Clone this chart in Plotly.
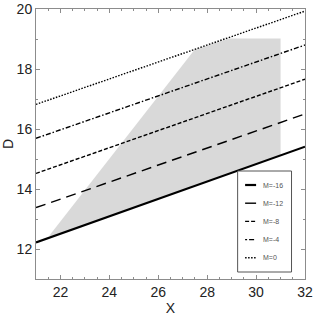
import plotly.graph_objects as go

# Data
x_ends = [21, 32]
m_labels = ["M=-16", "M=-12", "M=-8", "M=-4", "M=0"]
d_ends = [
    [12.22, 15.41],
    [13.38, 16.50],
    [14.52, 17.66],
    [15.69, 18.80],
    [16.82, 19.93],
]
# shaded feasible region (outline)
region_x = [21.55, 27.50, 28.90, 31.0, 31.0, 21.60]
region_y = [12.45, 18.66, 19.02, 19.02, 15.12, 12.40]

x_ticks = [22, 24, 26, 28, 30, 32]
y_ticks = [12, 14, 16, 18, 20]

dashes = ["solid", "10px,6px", "4px,2px", "5px,2px,1.5px,2px", "1.5px,1.5px"]
widths = [2.2, 1.4, 1.4, 1.4, 1.4]
legend_dashes = ["solid", "solid", "4px,2px", "2px,2px,5px,2px", "1.5px,1.5px"]

W, H = 313, 316
L, R, T, B = 35.5, 8, 9, 37
pw, ph = W - L - R, H - T - B

fig = go.Figure()
fig.add_trace(go.Scatter(x=region_x, y=region_y, fill="toself", fillcolor="#d9d9d9",
                         line=dict(width=0), mode="lines", showlegend=False, hoverinfo="skip"))
for lab, d, ds, w in zip(m_labels, d_ends, dashes, widths):
    fig.add_trace(go.Scatter(x=x_ends, y=d, mode="lines", name=lab, showlegend=False,
                             line=dict(color="black", width=w, dash=ds)))

# legend box (pixel layout converted to paper coords)
def px(xp):
    return (xp - L) / pw
def py(yp):
    return (H - B - yp) / ph

fig.add_shape(type="rect", xref="paper", yref="paper",
              x0=px(237.5), x1=px(291.5), y0=py(272), y1=py(171),
              line=dict(color="#555", width=1), fillcolor="white", layer="above")
for i, (lab, ds, w) in enumerate(zip(m_labels, legend_dashes, widths)):
    yy = 185 + i * 18.2
    fig.add_shape(type="line", xref="paper", yref="paper",
                  x0=px(245), x1=px(256), y0=py(yy), y1=py(yy),
                  line=dict(color="black", width=w, dash=ds), layer="above")
    fig.add_annotation(xref="paper", yref="paper", x=px(261), y=py(yy), text=lab,
                       showarrow=False, xanchor="left", yanchor="middle",
                       font=dict(family="Liberation Sans", size=7, color="#555"))

axis_common = dict(showline=True, linecolor="#8c8c8c", linewidth=1, mirror="allticks",
                   ticks="inside", ticklen=4, tickcolor="#8c8c8c", showgrid=False,
                   zeroline=False, automargin=False,
                   tickfont=dict(family="Liberation Sans", size=14, color="#222"))
fig.update_xaxes(range=[21, 32], tickvals=x_ticks,
                 minor=dict(dtick=0.5, ticks="inside", ticklen=2, tickcolor="#8c8c8c"),
                 title=dict(text="X", font=dict(family="Liberation Sans", size=14, color="#222"), standoff=6),
                 **axis_common)
fig.update_yaxes(range=[11, 20], tickvals=y_ticks,
                 minor=dict(dtick=1, ticks="inside", ticklen=2, tickcolor="#8c8c8c"),
                 title=dict(text="D", font=dict(family="Liberation Sans", size=14, color="#222"), standoff=6),
                 **axis_common)
fig.update_layout(
    width=W, height=H, margin=dict(l=L, r=R, t=T, b=B),
    plot_bgcolor="white", paper_bgcolor="white", showlegend=False,
)
fig.write_html("out.html", config={"displayModeBar": False},
               post_script="document.body.style.margin='0';document.body.style.overflow='hidden';")
